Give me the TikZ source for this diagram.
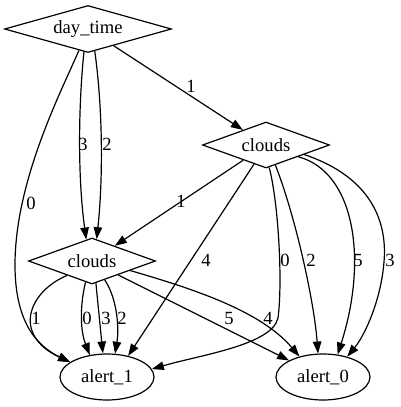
\documentclass[tikz,border=0pt]{standalone}
\usepackage{fontspec}
\setmainfont{Liberation Serif}
\usetikzlibrary{shapes.geometric,arrows.meta}

\begin{document}
\begin{tikzpicture}[x=1pt,y=-1pt,line width=1.2pt,
   font=\fontsize{18.6}{22}\selectfont,
   test/.style={draw,diamond,aspect=2.7,inner sep=0pt},
   leaf/.style={draw,ellipse,minimum width=94pt,minimum height=46pt,inner sep=0pt},
   edge/.style={-{Triangle[length=12pt,width=8.5pt]}},
   lbl/.style={inner sep=0pt}] % pixel grid, y down
   \useasboundingbox (0,0) rectangle (401,407);

   \node[test,minimum width=167pt,minimum height=47pt] (dt) at (88,29) {day\_time};
   \node[test,minimum width=127pt,minimum height=46pt] (cu) at (266,145) {clouds};
   \node[test,minimum width=127pt,minimum height=46pt] (cl) at (92,261) {clouds};
   \node[leaf] (aone)  at (107,377) {alert\_1};
   \node[leaf] (azero) at (323,377) {alert\_0};

   % day_time
   \draw[edge] (dt) -- (cu) node[lbl] at (191,86) {1};
   \draw[edge] (dt.-100) .. controls (78,110) and (78,180) .. (cl.105) node[lbl] at (83,144) {3};
   \draw[edge] (dt.-73) .. controls (103,110) and (103,180) .. (cl.78) node[lbl] at (107,144) {2};
   \draw[edge] (dt.-113) .. controls (62,90) and (15,180) .. (15,265)
      .. controls (15,320) and (35,345) .. (aone.158) node[lbl] at (31,203) {0};

   % upper clouds
   \draw[edge] (cu) -- (cl) node[lbl] at (181,201) {1};
   \draw[edge] (cu.-122) -- (aone.45) node[lbl] at (206,260) {4};
   \draw[edge] (cu.-82) .. controls (278,200) and (283,280) .. (278,318)
      .. controls (272,345) and (200,355) .. (aone.10) node[lbl] at (285,260) {0};
   \draw[edge] (cu.-65) .. controls (295,215) and (314,300) .. (azero.102) node[lbl] at (311,260) {2};
   \draw[edge] (cu.-20) .. controls (355,172) and (368,260) .. (azero.57) node[lbl] at (358,260) {5};
   \draw[edge] (cu.-14) .. controls (365,175) and (388,215) .. (384,262)
      .. controls (381,300) and (365,335) .. (azero.40) node[lbl] at (390,260) {3};

   % lower clouds
   \draw[edge] (cl.-150) .. controls (28,292) and (12,335) .. (aone.158) node[lbl] at (36,318) {1};
   \draw[edge] (cl.-107) .. controls (80,305) and (80,330) .. (aone.128) node[lbl] at (87,318) {0};
   \draw[edge] (cl.-80) -- (aone.100) node[lbl] at (106,318) {3};
   \draw[edge] (cl.-56) .. controls (118,300) and (119,330) .. (aone.71) node[lbl] at (122,318) {2};
   \draw[edge] (cl.-28) -- (azero.154) node[lbl] at (229,318) {5};
   \draw[edge] (cl.-14) .. controls (190,288) and (260,310) .. (azero.139) node[lbl] at (268,318) {4};
\end{tikzpicture}
\end{document}
